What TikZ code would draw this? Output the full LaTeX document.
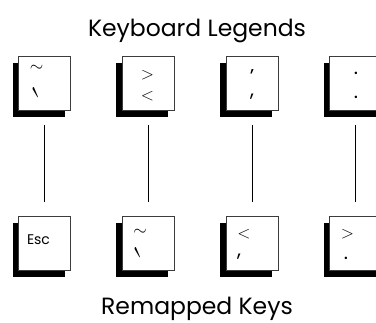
\documentclass[tikz,border=0pt]{standalone}
\usepackage{fontspec}
\newfontfamily\keyfont{Poppins}
\usepackage{xcolor}
\usepackage{tikz}
\usetikzlibrary{positioning, shadows}
\definecolor{keyedge}{RGB}{60,60,60}
\tikzset{
  keycap/.style={rectangle, draw=keyedge, fill=white, line width=0.7pt,
    minimum width=52pt, minimum height=54pt, inner sep=0pt,
    general shadow={fill=black, shadow xshift=-6pt, shadow yshift=-7pt}},
  legend/.style={inner sep=0pt, font=\fontsize{18}{18}\selectfont},
  punct/.style={inner sep=0pt, font=\keyfont\fontsize{20}{20}\selectfont},
  smalllegend/.style={inner sep=0pt, font=\keyfont\fontsize{14}{14}\selectfont},
  heading/.style={inner sep=0pt, anchor=base, font=\keyfont\fontsize{23.5}{23.5}\selectfont},
  link/.style={line width=0.6pt, color=black, shorten <=15pt, shorten >=14pt}
}
\newcommand{\gravemark}{{\fontsize{24}{24}\selectfont\scalebox{1.3}[2.4]{\textasciigrave}}}
\begin{document}
\begin{tikzpicture}[x=1pt, y=-1pt]
  \useasboundingbox (0,0) rectangle (376,323);
  \clip (0,0) rectangle (376,323);

  % Headings
  \node[heading] (top) at (197,37) {Keyboard Legends};
  \node[heading] (bot) at (197,315) {Remapped Keys};

  % Keyboard legends
  \node[keycap] (lg1) at (44.5,83) {};
  \node[keycap] (lg2) at (148.2,83) {};
  \node[keycap] (lg3) at (251.9,83) {};
  \node[keycap] (lg4) at (355.6,83) {};

  % Remapped keys
  \node[keycap] (rk1) at (44.5,243.5) {};
  \node[keycap] (rk2) at (148.2,243.5) {};
  \node[keycap] (rk3) at (251.9,243.5) {};
  \node[keycap] (rk4) at (355.6,243.5) {};

  % Key legends, top row
  \node[legend] (lg1a) at (36.5,68) {$\sim$};
  \node[legend, anchor=north] (lg1b) at (36.5,87) {\gravemark};
  \node[legend] (lg2a) at (147.5,75) {$>$};
  \node[legend] (lg2b) at (147.5,96) {$<$};
  \node[punct, anchor=base] (lg3a) at (252,84) {’};
  \node[punct] (lg3b) at (252,97) {,};
  \node[punct] (lg4a) at (356,73) {.};
  \node[punct] (lg4b) at (356,97) {.};

  % Key legends, bottom row
  \node[smalllegend] (rk1a) at (38.5,239.5) {Esc};
  \node[legend] (rk2a) at (140,232) {$\sim$};
  \node[legend, anchor=north] (rk2b) at (138.5,247) {\gravemark};
  \node[legend] (rk3a) at (244,234.5) {$<$};
  \node[punct] (rk3b) at (239,257) {,};
  \node[legend] (rk4a) at (347.5,234) {$>$};
  \node[punct] (rk4b) at (346,258) {.};

  % Links
  \draw[link] (lg1) -- (rk1);
  \draw[link] (lg2) -- (rk2);
  \draw[link] (lg3) -- (rk3);
  \draw[link] (lg4) -- (rk4);
\end{tikzpicture}
\end{document}
